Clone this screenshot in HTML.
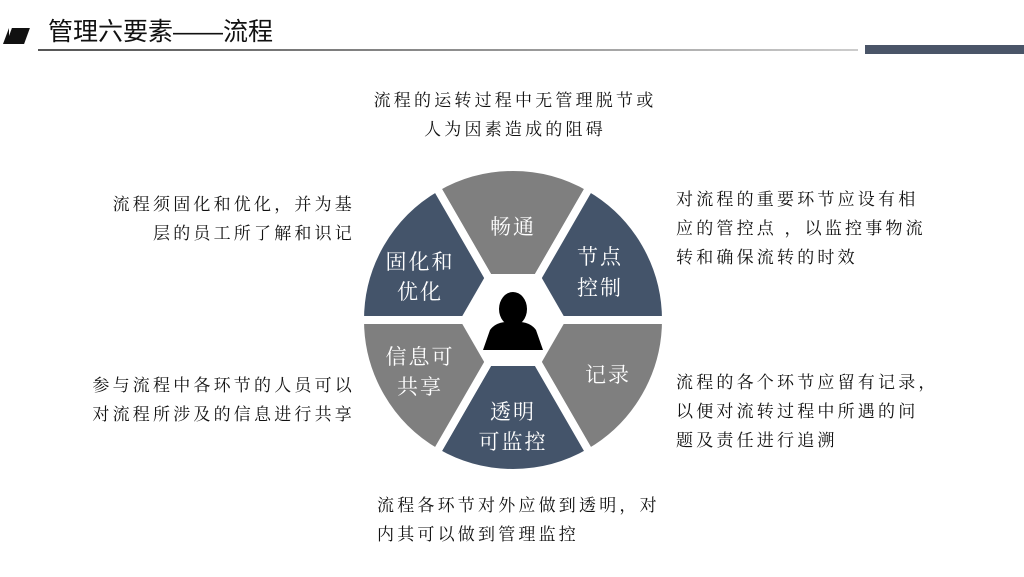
<!DOCTYPE html>
<html><head><meta charset="utf-8"><style>
body{margin:0;width:1024px;height:577px;background:#fff;position:relative;overflow:hidden;font-family:"Liberation Serif","Noto Serif CJK SC",serif;}
.t{position:absolute;font-size:17px;line-height:29px;letter-spacing:3.2px;color:#111;white-space:nowrap;}
</style></head><body>
<div style="position:absolute;left:3px;top:28px;width:0;height:0;border-bottom:16px solid #111;border-left:6px solid transparent;"></div>
<div style="position:absolute;left:9px;top:28px;width:18px;height:16px;background:#111;transform:skewX(-20deg);"></div>
<div style="position:absolute;left:48px;top:12px;font-family:'Liberation Sans','Noto Sans CJK SC',sans-serif;font-size:25px;color:#111;">管理六要素——流程</div>
<div style="position:absolute;left:38px;top:49px;width:820px;height:2px;background:linear-gradient(90deg,#555,#999 60%,#ccc);"></div>
<div style="position:absolute;left:865px;top:45px;width:159px;height:9px;background:#4a5568;"></div>

<svg width="1024" height="577" style="position:absolute;left:0;top:0">
<g stroke="#fff" stroke-width="8" stroke-linejoin="miter">
<path d="M513,320 L436.5,187.5 A153,153 0 0 1 589.5,187.5 Z" fill="#7f7f7f"/>
<path d="M513,320 L589.5,187.5 A153,153 0 0 1 666,320 Z" fill="#44546a"/>
<path d="M513,320 L666,320 A153,153 0 0 1 589.5,452.5 Z" fill="#7f7f7f"/>
<path d="M513,320 L589.5,452.5 A153,153 0 0 1 436.5,452.5 Z" fill="#44546a"/>
<path d="M513,320 L436.5,452.5 A153,153 0 0 1 360,320 Z" fill="#7f7f7f"/>
<path d="M513,320 L360,320 A153,153 0 0 1 436.5,187.5 Z" fill="#44546a"/>
</g>
<polygon points="566,320 539.5,366 486.5,366 460,320 486.5,274 539.5,274" fill="#fff"/>
<ellipse cx="513" cy="309" rx="14" ry="17" fill="#000"/>
<path d="M483,350 L490,330 Q495,323 505,322 L521,322 Q531,323 536,330 L543,350 Z" fill="#000"/>
<g fill="#fff" font-size="21" text-anchor="middle" font-family="Liberation Serif, Noto Serif CJK SC, serif" letter-spacing="2">
<text x="513" y="234">畅通</text>
<text x="600" y="264">节点</text><text x="600" y="295">控制</text>
<text x="420" y="269">固化和</text><text x="420" y="299">优化</text>
<text x="420" y="364">信息可</text><text x="420" y="394">共享</text>
<text x="608" y="382">记录</text>
<text x="513" y="419">透明</text><text x="513" y="449">可监控</text>
</g>
</svg>

<div class="t" style="left:365px;top:86px;text-align:center;width:300px;">流程的运转过程中无管理脱节或<br>人为因素造成的阻碍</div>
<div class="t" style="right:669px;top:190px;text-align:right;">流程须固化和优化，并为基<br>层的员工所了解和识记</div>
<div class="t" style="left:676px;top:185px;">对流程的重要环节应设有相<br>应的管控点 ，以监控事物流<br>转和确保流转的时效</div>
<div class="t" style="right:669px;top:371px;text-align:right;">参与流程中各环节的人员可以<br>对流程所涉及的信息进行共享</div>
<div class="t" style="left:676px;top:368px;">流程的各个环节应留有记录，<br>以便对流转过程中所遇的问<br>题及责任进行追溯</div>
<div class="t" style="left:377px;top:491px;">流程各环节对外应做到透明，对<br>内其可以做到管理监控</div>
</body></html>
